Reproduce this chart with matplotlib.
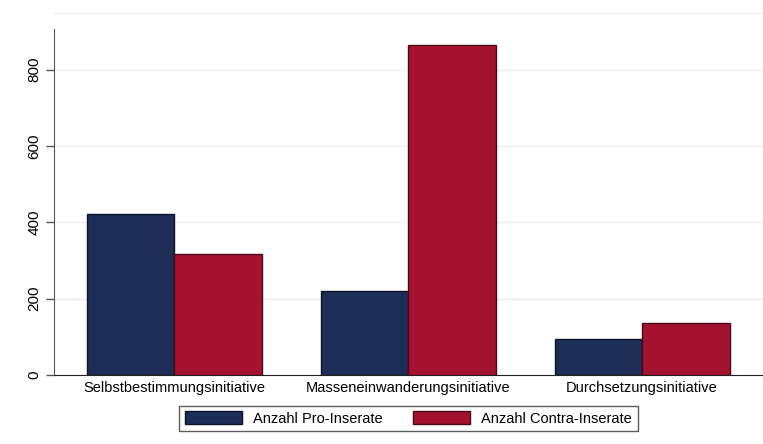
import numpy as np
import matplotlib.pyplot as plt
from matplotlib.patches import Patch

plt.rcParams['font.family'] = ['Liberation Sans', 'DejaVu Sans']

# Daten
initiativen = ["Selbstbestimmungsinitiative", "Masseneinwanderungsinitiative",
               "Durchsetzungsinitiative"]
pro = [422, 219, 94]
contra = [316, 865, 135]

navy = "#1e2d55"
rot = "#a51230"

fig = plt.figure(figsize=(7.63, 4.44), dpi=100)
ax = fig.add_axes([54/763, 69/444, 1 - 54/763, (375 - 13)/444])

x = np.arange(len(initiativen))
w = 0.374
ax.bar(x - w/2, pro, w, color=navy, edgecolor="#0b1428", linewidth=1.0, zorder=3)
ax.bar(x + w/2, contra, w, color=rot, edgecolor="#4a0a16", linewidth=1.0, zorder=3)

ax.set_xlim(-0.513, 2.517)
ax.set_ylim(0, 948)
ax.set_yticks([0, 200, 400, 600, 800])
ax.set_xticks(x)
ax.set_xticklabels(initiativen, fontsize=10.5)
ax.tick_params(axis="x", length=0, pad=4)
ax.tick_params(axis="y", length=6, width=1, color="#555555", labelsize=11, pad=3)
for lab in ax.get_yticklabels():
    lab.set_rotation(90)
    lab.set_va("center")

ax.grid(axis="y", color="#e8eeee", linewidth=1, zorder=0)
ax.spines["right"].set_visible(False)
ax.spines["top"].set_color("#e8eeee")
ax.spines["left"].set_color("#555555")
ax.spines["left"].set_bounds(0, 905)
ax.spines["bottom"].set_color("#222222")

handles = [Patch(facecolor=navy, edgecolor="#0b1428"),
           Patch(facecolor=rot, edgecolor="#4a0a16")]
leg = fig.legend(handles, ["Anzahl Pro-Inserate", "Anzahl Contra-Inserate"],
                 loc="center", bbox_to_anchor=(408.5/763, 1 - 418.5/444), ncol=2,
                 fontsize=10.5, frameon=True, fancybox=False, edgecolor="#333333",
                 handlelength=3.9, handleheight=0.95, columnspacing=2.1,
                 borderpad=0.4, borderaxespad=0.3, handletextpad=0.75)
leg.get_frame().set_linewidth(1.0)

fig.savefig("out.png", dpi=100)
